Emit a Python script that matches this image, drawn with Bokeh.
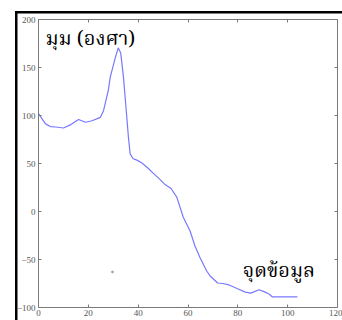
from bokeh.plotting import figure
from bokeh.models import Range1d, FixedTicker, LinearAxis, Label
from bokeh.embed import file_html
from bokeh.resources import INLINE

# ---- data ----
x_vals = [0, 2.8, 4.8, 7, 10, 13, 16.1, 18.8, 21.5, 24.8, 26.1, 27, 28, 28.8, 30.8, 32,
          33, 34.1, 35, 36.1, 36.8, 38, 39.5, 41.5, 44, 46, 48.5, 50.8, 53.2, 55.5,
          58.1, 60.8, 62.8, 64.8, 67.5, 69, 71.9, 74, 76.5, 79.9, 83, 85.2, 88.5,
          90.5, 92.5, 93.9, 98, 103.9]
y_vals = [102, 91.3, 88.5, 88, 87, 90.5, 95.8, 93, 94.5, 98, 105, 115, 126, 140, 160, 170.5,
          165, 140, 112, 77, 60, 55, 53.5, 50.5, 45, 40, 34, 28, 24, 15,
          -6, -20, -36, -48, -62, -67.5, -74.5, -75, -76.5, -80.5, -84, -85, -81.5,
          -83.5, -86, -89, -89, -89]
stray_x = [29.7]
stray_y = [-63]
x_ticks = [0, 20, 40, 60, 80, 100, 120]
y_ticks = [-100, -50, 0, 50, 100, 150, 200]
label_angle = "มุม (องศา)"
label_points = "จุดข้อมูล"

AX = "#7a7a7a"
TICK_TXT = "#555555"
THAI_FONT = "Noto Serif Thai, Noto Sans Thai, serif"

p = figure(width=342, height=320, output_backend="svg", toolbar_location=None,
           x_range=Range1d(0, 120), y_range=Range1d(-100, 200),
           min_border_left=38, min_border_right=5, min_border_top=19, min_border_bottom=13,
           background_fill_color="white", border_fill_alpha=0)
p.outline_line_color = None
p.grid.visible = False
# screenshot frame (black L-shaped border behind the canvas)
p.styles = {"box-shadow": "inset 15px 11px 0 0 white, inset 17.5px 13.5px 0 0 black",
            "background-color": "white"}

for ax in [p.xaxis[0], p.yaxis[0]]:
    ax.axis_line_color = AX
    ax.major_tick_line_color = AX
    ax.major_tick_in = 3
    ax.major_tick_out = 0
    ax.minor_tick_line_color = None
    ax.major_label_text_color = TICK_TXT
    ax.major_label_text_font = "Liberation Sans Narrow"
    ax.major_label_text_font_size = "9px"
p.xaxis[0].ticker = FixedTicker(ticks=x_ticks)
p.yaxis[0].ticker = FixedTicker(ticks=y_ticks)
p.xaxis[0].major_label_standoff = 2
p.yaxis[0].major_label_standoff = 3

top = LinearAxis(ticker=FixedTicker(ticks=x_ticks), axis_line_color=AX,
                 major_tick_line_color=AX, major_tick_in=3, major_tick_out=0,
                 minor_tick_line_color=None, major_label_overrides={t: "" for t in x_ticks},
                 major_label_standoff=0)
right = LinearAxis(ticker=FixedTicker(ticks=y_ticks), axis_line_color=AX,
                   major_tick_line_color=AX, major_tick_in=3, major_tick_out=0,
                   minor_tick_line_color=None, major_label_overrides={t: "" for t in y_ticks},
                   major_label_standoff=0)
p.add_layout(top, "above")
p.add_layout(right, "right")

p.line(x_vals, y_vals, line_color="#7878ff", line_width=1.2)
p.scatter(stray_x, stray_y, size=2, color="#aaaaaa")

p.add_layout(Label(x=2.8, y=178.5, text=label_angle, text_font=THAI_FONT,
                   text_font_size="20px", text_color="black", text_baseline="alphabetic"))
p.add_layout(Label(x=82, y=-63.5, text=label_points, text_font=THAI_FONT,
                   text_font_size="20px", text_color="black", text_baseline="alphabetic"))

open("out.html", "w").write(file_html(p, INLINE))
